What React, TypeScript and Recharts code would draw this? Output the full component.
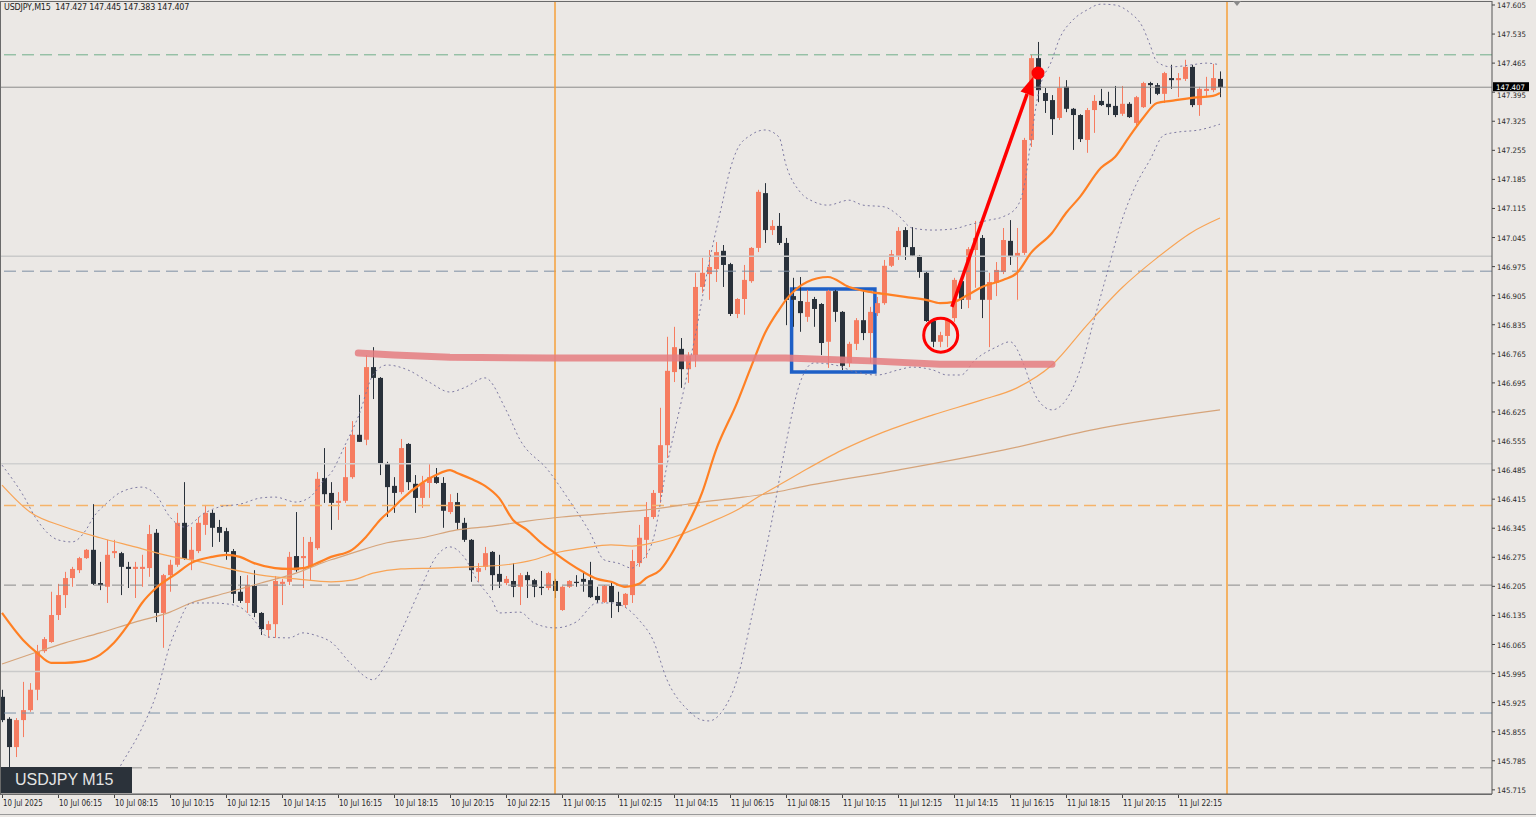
import { ComposedChart, Bar, Line, XAxis, YAxis, ReferenceLine, ReferenceArea, ReferenceDot } from "recharts"

// USDJPY M15, 10 Jul 04:15 .. 11 Jul 23:45, one entry per candle
const opens = [
  145.939, 145.886, 145.818, 145.883, 145.907, 145.956, 146.049, 146.071, 146.136, 146.184,
  146.225, 146.244, 146.273, 146.293, 146.213, 146.204, 146.285, 146.285, 146.252, 146.247,
  146.247, 146.249, 146.334, 146.141, 146.232, 146.257, 146.358, 146.269, 146.290, 146.353,
  146.382, 146.348, 146.338, 146.290, 146.192, 146.165, 146.206, 146.141, 146.100, 146.114,
  146.211, 146.216, 146.278, 146.273, 146.252, 146.297, 146.466, 146.430, 146.406, 146.411,
  146.468, 146.570, 146.558, 146.733, 146.707, 146.502, 146.447, 146.432, 146.548, 146.452,
  146.418, 146.454, 146.468, 146.454, 146.384, 146.408, 146.358, 146.317, 146.240, 146.252,
  146.288, 146.235, 146.213, 146.218, 146.204, 146.232, 146.220, 146.204, 146.201, 146.218,
  146.148, 146.204, 146.216, 146.223, 146.220, 146.182, 146.167, 146.206, 146.167, 146.160,
  146.184, 146.261, 146.317, 146.372, 146.430, 146.545, 146.721, 146.777, 146.728, 146.762,
  146.926, 146.957, 146.969, 147.013, 146.981, 146.861, 146.897, 146.940, 147.020, 147.152,
  147.063, 147.073, 147.032, 146.904, 146.892, 146.854, 146.897, 146.885, 146.794, 146.916,
  146.866, 146.743, 146.789, 146.846, 146.815, 146.863, 146.887, 146.977, 147.001, 147.063,
  147.022, 147.001, 146.960, 146.844, 146.794, 146.808, 146.851, 146.940, 146.895, 147.015,
  147.044, 146.895, 146.936, 146.962, 147.037, 146.998, 147.008, 147.280, 147.477, 147.393,
  147.376, 147.333, 147.408, 147.355, 147.340, 147.280, 147.352, 147.374, 147.367, 147.362,
  147.343, 147.367, 147.321, 147.359, 147.417, 147.412, 147.391, 147.429, 147.424, 147.427,
  147.456, 147.364, 147.398, 147.400, 147.427,
]
const highs = [
  145.956, 145.890, 145.888, 145.975, 145.972, 146.064, 146.083, 146.192, 146.211, 146.240,
  146.252, 146.276, 146.295, 146.403, 146.264, 146.317, 146.317, 146.288, 146.264, 146.264,
  146.281, 146.353, 146.343, 146.235, 146.269, 146.382, 146.456, 146.348, 146.372, 146.401,
  146.389, 146.365, 146.346, 146.295, 146.230, 146.232, 146.244, 146.143, 146.122, 146.230,
  146.223, 146.288, 146.384, 146.324, 146.324, 146.480, 146.538, 146.456, 146.432, 146.541,
  146.603, 146.666, 146.762, 146.781, 146.709, 146.505, 146.468, 146.560, 146.550, 146.473,
  146.471, 146.500, 146.490, 146.468, 146.427, 146.430, 146.370, 146.319, 146.261, 146.300,
  146.290, 146.281, 146.230, 146.261, 146.237, 146.240, 146.223, 146.242, 146.240, 146.223,
  146.206, 146.220, 146.232, 146.242, 146.264, 146.204, 146.208, 146.216, 146.192, 146.189,
  146.293, 146.353, 146.408, 146.437, 146.635, 146.806, 146.830, 146.803, 146.769, 146.960,
  146.996, 147.015, 147.034, 147.027, 146.984, 146.899, 146.979, 147.022, 147.160, 147.176,
  147.087, 147.104, 147.044, 146.948, 146.950, 146.919, 146.902, 146.887, 146.919, 146.919,
  146.868, 146.794, 146.851, 146.916, 146.878, 146.902, 146.991, 147.015, 147.070, 147.070,
  147.070, 147.003, 146.962, 146.846, 146.818, 146.851, 146.948, 146.948, 147.022, 147.085,
  147.051, 146.960, 146.986, 147.068, 147.087, 147.068, 147.285, 147.485, 147.516, 147.405,
  147.388, 147.432, 147.424, 147.357, 147.342, 147.357, 147.388, 147.403, 147.396, 147.410,
  147.410, 147.371, 147.386, 147.420, 147.420, 147.417, 147.444, 147.461, 147.441, 147.473,
  147.461, 147.408, 147.432, 147.463, 147.445,
]
const lows = [
  145.878, 145.768, 145.794, 145.842, 145.903, 145.931, 146.045, 146.069, 146.124, 146.153,
  146.204, 146.237, 146.271, 146.208, 146.196, 146.165, 146.273, 146.184, 146.201, 146.177,
  146.204, 146.228, 146.119, 146.057, 146.192, 146.252, 146.269, 146.244, 146.285, 146.329,
  146.300, 146.312, 146.269, 146.165, 146.165, 146.141, 146.131, 146.088, 146.081, 146.081,
  146.160, 146.208, 146.240, 146.201, 146.220, 146.293, 146.406, 146.341, 146.365, 146.406,
  146.464, 146.553, 146.545, 146.656, 146.473, 146.372, 146.382, 146.427, 146.437, 146.382,
  146.394, 146.418, 146.452, 146.346, 146.379, 146.341, 146.312, 146.216, 146.216, 146.244,
  146.196, 146.201, 146.208, 146.179, 146.160, 146.177, 146.179, 146.184, 146.196, 146.177,
  146.146, 146.201, 146.204, 146.192, 146.177, 146.165, 146.165, 146.129, 146.143, 146.153,
  146.165, 146.252, 146.273, 146.367, 146.406, 146.514, 146.697, 146.683, 146.695, 146.733,
  146.912, 146.895, 146.938, 146.926, 146.856, 146.851, 146.859, 146.936, 147.010, 147.032,
  147.051, 147.027, 146.834, 146.830, 146.818, 146.842, 146.830, 146.762, 146.731, 146.842,
  146.726, 146.733, 146.774, 146.798, 146.743, 146.856, 146.883, 146.974, 146.991, 146.991,
  146.998, 146.948, 146.842, 146.781, 146.781, 146.781, 146.842, 146.873, 146.875, 146.924,
  146.851, 146.781, 146.904, 146.957, 146.979, 146.895, 147.003, 147.263, 147.371, 147.345,
  147.292, 147.328, 147.347, 147.256, 147.275, 147.249, 147.297, 147.362, 147.340, 147.335,
  147.338, 147.333, 147.316, 147.357, 147.367, 147.388, 147.369, 147.403, 147.383, 147.422,
  147.359, 147.338, 147.383, 147.395, 147.383,
]
const closes = [
  145.883, 145.818, 145.883, 145.907, 145.956, 146.049, 146.078, 146.136, 146.184, 146.225,
  146.247, 146.273, 146.293, 146.211, 146.208, 146.281, 146.290, 146.252, 146.247, 146.252,
  146.252, 146.331, 146.141, 146.232, 146.257, 146.358, 146.271, 146.293, 146.358, 146.382,
  146.346, 146.334, 146.288, 146.187, 146.170, 146.208, 146.141, 146.102, 146.114, 146.218,
  146.216, 146.276, 146.244, 146.278, 146.312, 146.464, 146.427, 146.406, 146.411, 146.468,
  146.570, 146.553, 146.733, 146.707, 146.502, 146.444, 146.430, 146.538, 146.456, 146.418,
  146.454, 146.468, 146.454, 146.387, 146.408, 146.358, 146.317, 146.244, 146.249, 146.285,
  146.232, 146.216, 146.223, 146.204, 146.232, 146.220, 146.204, 146.201, 146.237, 146.194,
  146.204, 146.218, 146.213, 146.216, 146.179, 146.172, 146.206, 146.167, 146.158, 146.187,
  146.266, 146.322, 146.372, 146.430, 146.545, 146.724, 146.781, 146.728, 146.760, 146.926,
  146.960, 146.974, 147.010, 146.979, 146.861, 146.897, 146.943, 147.020, 147.155, 147.063,
  147.073, 147.032, 146.895, 146.895, 146.863, 146.890, 146.873, 146.791, 146.916, 146.866,
  146.736, 146.789, 146.846, 146.815, 146.866, 146.887, 146.977, 147.005, 147.061, 147.022,
  147.001, 146.962, 146.844, 146.794, 146.810, 146.846, 146.943, 146.895, 147.017, 147.044,
  146.895, 146.938, 146.967, 147.039, 146.998, 147.008, 147.280, 147.477, 147.400, 147.374,
  147.330, 147.405, 147.355, 147.340, 147.282, 147.352, 147.374, 147.364, 147.359, 147.340,
  147.367, 147.335, 147.383, 147.417, 147.412, 147.391, 147.441, 147.424, 147.429, 147.456,
  147.364, 147.403, 147.403, 147.429, 147.407,
]

// indicator readings: [candle index, price]
const maFast = [
  [0, 146.141], [3, 146.076], [5, 146.045], [7, 146.021], [9, 146.021], [11, 146.023], [14, 146.04],
  [16, 146.069], [18, 146.112], [20, 146.165], [22, 146.201], [25, 146.237], [27, 146.261], [30, 146.276],
  [32, 146.281], [34, 146.276], [36, 146.261], [39, 146.249], [41, 146.247], [43, 146.249], [45, 146.261],
  [47, 146.276], [50, 146.293], [52, 146.324], [54, 146.365], [56, 146.396], [57, 146.413], [60, 146.454],
  [62, 146.473], [64, 146.485], [65, 146.478], [67, 146.464], [69, 146.447], [71, 146.418], [73, 146.365],
  [75, 146.341], [77, 146.31], [79, 146.285], [81, 146.261], [83, 146.24], [85, 146.223], [87, 146.216],
  [89, 146.204], [91, 146.211], [92, 146.225], [94, 146.244], [97, 146.324], [100, 146.43], [102, 146.533],
  [105, 146.647], [107, 146.733], [109, 146.815], [111, 146.871], [112, 146.895], [115, 146.938],
  [118, 146.95], [121, 146.926], [124, 146.914], [127, 146.907], [129, 146.902], [132, 146.895],
  [134, 146.887], [136, 146.89], [138, 146.907], [140, 146.926], [143, 146.943], [145, 146.96],
  [147, 147.008], [150, 147.056], [152, 147.104], [154, 147.143], [157, 147.213], [159, 147.239],
  [161, 147.287], [163, 147.333], [165, 147.369], [167, 147.374], [169, 147.379], [171, 147.383],
  [173, 147.386], [174, 147.393],
]
const maMid = [
  [0, 146.449], [4, 146.384], [9, 146.348], [14, 146.322], [19, 146.3], [24, 146.278], [27, 146.269],
  [32, 146.249], [37, 146.232], [42, 146.223], [47, 146.216], [50, 146.22], [53, 146.237], [57, 146.247],
  [62, 146.249], [67, 146.252], [72, 146.257], [76, 146.269], [79, 146.285], [83, 146.297], [87, 146.305],
  [90, 146.302], [93, 146.31], [96, 146.324], [101, 146.358], [105, 146.389], [108, 146.42], [111, 146.449],
  [114, 146.478], [120, 146.533], [126, 146.577], [133, 146.618], [140, 146.654], [145, 146.683],
  [150, 146.738], [155, 146.834], [160, 146.924], [165, 146.996], [170, 147.058], [174, 147.092],
]
const maSlow = [
  [0, 146.018], [5, 146.047], [9, 146.069], [14, 146.093], [19, 146.119], [24, 146.143], [27, 146.165],
  [32, 146.189], [37, 146.213], [42, 146.237], [47, 146.269], [50, 146.285], [55, 146.31], [60, 146.322],
  [65, 146.341], [70, 146.35], [75, 146.362], [80, 146.372], [85, 146.379], [92, 146.389], [100, 146.408],
  [105, 146.418], [110, 146.43], [114, 146.444], [128, 146.485], [143, 146.533], [157, 146.586], [174, 146.63],
]
const bandUpper = [
  [0, 146.497], [3, 146.425], [5, 146.365], [8, 146.317], [10, 146.312], [12, 146.341], [13, 146.37],
  [15, 146.406], [17, 146.432], [20, 146.444], [22, 146.425], [24, 146.372], [26, 146.348], [29, 146.382],
  [31, 146.396], [34, 146.403], [37, 146.418], [39, 146.42], [42, 146.408], [44, 146.42], [46, 146.461],
  [47, 146.478], [49, 146.545], [51, 146.618], [53, 146.714], [55, 146.738], [58, 146.726], [61, 146.697],
  [64, 146.673], [66, 146.683], [69, 146.707], [72, 146.63], [74, 146.558], [78, 146.485], [81, 146.413],
  [84, 146.334], [86, 146.269], [88, 146.261], [90, 146.249], [91, 146.261], [93, 146.317], [95, 146.497],
  [97, 146.647], [99, 146.806], [101, 146.984], [103, 147.135], [104, 147.208], [105, 147.256],
  [107, 147.292], [109, 147.304], [111, 147.287], [112, 147.22], [114, 147.155], [116, 147.131],
  [118, 147.123], [121, 147.135], [123, 147.123], [126, 147.119], [128, 147.099], [130, 147.068],
  [133, 147.063], [136, 147.066], [138, 147.075], [141, 147.087], [143, 147.095], [145, 147.119],
  [146, 147.167], [147, 147.28], [148, 147.388], [150, 147.473], [151, 147.521], [153, 147.569],
  [155, 147.593], [157, 147.607], [159, 147.605], [161, 147.588], [163, 147.55], [164, 147.509],
  [165, 147.468], [167, 147.456], [170, 147.461], [172, 147.465], [174, 147.461],
]
const bandLower = [
  [12, 145.68], [14, 145.69], [16, 145.745], [17, 145.775], [20, 145.864], [22, 145.943], [24, 146.064],
  [25, 146.107], [27, 146.165], [30, 146.165], [32, 146.163], [34, 146.155], [36, 146.124], [38, 146.083],
  [41, 146.081], [43, 146.093], [45, 146.086], [47, 146.071], [50, 146.016], [53, 145.98], [55, 146.023],
  [57, 146.095], [60, 146.208], [62, 146.276], [64, 146.3], [66, 146.276], [68, 146.216], [70, 146.172],
  [71, 146.141], [74, 146.143], [76, 146.117], [79, 146.105], [82, 146.119], [85, 146.165], [87, 146.165],
  [89, 146.155], [91, 146.124], [93, 146.076], [95, 145.98], [98, 145.907], [100, 145.883], [101, 145.881],
  [103, 145.907], [105, 145.98], [107, 146.124], [108, 146.204], [110, 146.365], [112, 146.55],
  [114, 146.695], [116, 146.743], [119, 146.738], [122, 146.721], [125, 146.714], [128, 146.726],
  [130, 146.733], [133, 146.726], [135, 146.714], [137, 146.714], [139, 146.75], [142, 146.781],
  [144, 146.794], [146, 146.738], [147, 146.69], [148, 146.654], [150, 146.63], [152, 146.654],
  [154, 146.726], [156, 146.846], [158, 146.967], [160, 147.087], [162, 147.172], [164, 147.232],
  [166, 147.292], [168, 147.299], [171, 147.304], [174, 147.318],
]
// hand-drawn support line
const supportLine = [
  [50.9, 146.767], [56, 146.762], [64, 146.757], [78, 146.755], [92, 146.755], [112, 146.755],
  [124, 146.748], [134, 146.74], [150, 146.74],
]

const timeTicks = [0, 8, 16, 24, 32, 40, 48, 56, 64, 72, 80, 88, 96, 104, 112, 120, 128, 136, 144, 152, 160, 168]
const timeLabels = [
  "10 Jul 2025", "10 Jul 06:15", "10 Jul 08:15", "10 Jul 10:15", "10 Jul 12:15", "10 Jul 14:15",
  "10 Jul 16:15", "10 Jul 18:15", "10 Jul 20:15", "10 Jul 22:15", "11 Jul 00:15", "11 Jul 02:15",
  "11 Jul 04:15", "11 Jul 06:15", "11 Jul 08:15", "11 Jul 10:15", "11 Jul 12:15", "11 Jul 14:15",
  "11 Jul 16:15", "11 Jul 18:15", "11 Jul 20:15", "11 Jul 22:15",
]
const priceTicks = [
  147.605, 147.535, 147.465, 147.395, 147.325, 147.255, 147.185, 147.115, 147.045, 146.975,
  146.905, 146.835, 146.765, 146.695, 146.625, 146.555, 146.485, 146.415, 146.345, 146.275,
  146.205, 146.135, 146.065, 145.995, 145.925, 145.855, 145.785, 145.715,
]
const lastPrice = 147.407
const dayBreaks = [79, 175]

const UP = "#F67C60"
const DOWN = "#29313A"
const BG = "#EBE8E5"
const BAND = "#7E7AA2"
const AXIS_FONT = "'DejaVu Sans', sans-serif"

const candles = opens.map((o, i) => ({ i, o, h: highs[i], l: lows[i], c: closes[i] }))
const pts = (arr: number[][]) => arr.map(([i, v]) => ({ i, v }))

function Candle(props: any) {
  const { x, y, width, height, payload } = props
  if (!payload) return null
  const { o, h, l, c } = payload
  const top = Math.min(y, y + height)
  const bot = Math.max(y, y + height)
  const k = h === l ? 0 : (bot - top) / (h - l)
  const yO = top + (h - o) * k
  const yC = top + (h - c) * k
  const color = c >= o ? UP : DOWN
  const cx = Math.round(x + width / 2) + 0.5
  const bTop = Math.min(yO, yC)
  const bH = Math.max(1, Math.abs(yC - yO))
  return (
    <g>
      <line x1={cx} x2={cx} y1={top} y2={bot} stroke={color} strokeWidth={1} />
      <rect x={cx - 2.5} y={bTop} width={5} height={bH} fill={color} />
    </g>
  )
}

function TimeTick({ x, y, payload }: any) {
  const label = timeLabels[timeTicks.indexOf(payload.value)] ?? ""
  return (
    <g>
      <line x1={x + 0.5} x2={x + 0.5} y1={y} y2={y + 4} stroke="#444" />
      <text x={x + 1} y={y + 12} fontSize={8} fontFamily={AXIS_FONT} fill="#2a2a2a"
        textLength={label.length * 3.6} lengthAdjust="spacingAndGlyphs">{label}</text>
    </g>
  )
}

function PriceTick({ x, y, payload }: any) {
  const v = payload.value
  if (v === lastPrice) {
    return (
      <g>
        <rect x={x + 1} y={y - 5} width={36} height={9} fill="#000" />
        <text x={x + 4} y={y + 2.5} fontSize={7.5} fontFamily={AXIS_FONT} fill="#fff"
          textLength={29} lengthAdjust="spacingAndGlyphs">{v.toFixed(3)}</text>
      </g>
    )
  }
  // the tick just under the price tag peeks out below it, as in the terminal
  const dy = Math.abs(v - lastPrice) < 0.02 ? 5.5 : 3
  return (
    <g>
      <line x1={x} x2={x + 3} y1={y} y2={y} stroke="#444" />
      <text x={x + 5} y={y + dy} fontSize={7.5} fontFamily={AXIS_FONT} fill="#2a2a2a"
        textLength={29} lengthAdjust="spacingAndGlyphs">{v.toFixed(3)}</text>
    </g>
  )
}

function Arrow(p: any) {
  const { x1, y1, x2, y2 } = p
  if (x1 == null) return null
  const a = Math.atan2(y2 - y1, x2 - x1)
  const L = 18, W = 7
  const bx = x2 - L * Math.cos(a), by = y2 - L * Math.sin(a)
  const nx = -Math.sin(a) * W, ny = Math.cos(a) * W
  return (
    <g>
      <line x1={x1} y1={y1} x2={bx} y2={by} stroke="#FF0000" strokeWidth={3.5} />
      <polygon points={`${x2},${y2} ${bx + nx},${by + ny} ${bx - nx},${by - ny}`} fill="#FF0000" />
    </g>
  )
}

export default function App() {
  return (
    <div style={{ position: "absolute", left: 0, top: 0, width: 1536, height: 817, background: BG, overflow: "hidden" }}>
      <ComposedChart width={1536} height={817} data={candles} margin={{ top: 1, right: 0, bottom: 0, left: 0 }}>
        <XAxis dataKey="i" type="number" domain={[-2 / 7, 1490 / 7]} allowDataOverflow ticks={timeTicks}
          interval={0} height={23} tickLine={false} tickSize={0} tickMargin={0} tick={<TimeTick />}
          axisLine={{ stroke: "#555" }} />
        <YAxis orientation="right" type="number" domain={[145.705, 147.6146]} allowDataOverflow width={44}
          ticks={[...priceTicks, lastPrice]} interval={0} tickLine={false} tickSize={0} tickMargin={0}
          tick={<PriceTick />} axisLine={{ stroke: "#555" }} />

        <ReferenceLine y={147.485} stroke="#6FAE89" strokeDasharray="12 6" />
        <ReferenceLine y={lastPrice} stroke="#8C8C8C" />
        <ReferenceLine y={147.0} stroke="#CACACA" strokeWidth={1.5} />
        <ReferenceLine y={146.964} stroke="#7D8FA3" strokeDasharray="12 6" />
        <ReferenceLine y={146.5} stroke="#D0D0D0" strokeWidth={1.5} />
        <ReferenceLine y={146.4} stroke="#F5B36A" strokeDasharray="12 6" strokeWidth={1.5} />
        <ReferenceLine y={146.208} stroke="#8A8A8A" strokeDasharray="12 6" />
        <ReferenceLine y={146.0} stroke="#CACACA" strokeWidth={1.5} />
        <ReferenceLine y={145.9} stroke="#7D93AB" strokeDasharray="12 6" />
        <ReferenceLine y={145.768} stroke="#8E8E8E" strokeDasharray="12 6" />
        {dayBreaks.map((d) => (
          <ReferenceLine key={d} x={d} stroke="#F6A03A" strokeWidth={1.5} />
        ))}

        <Line data={pts(maSlow)} dataKey="v" type="monotone" stroke="#D6A47A" strokeWidth={1.2} dot={false} activeDot={false} isAnimationActive={false} />
        <Line data={pts(maMid)} dataKey="v" type="monotone" stroke="#F8A456" strokeWidth={1.2} dot={false} activeDot={false} isAnimationActive={false} />
        <Line data={pts(bandUpper)} dataKey="v" type="monotone" stroke={BAND} strokeWidth={1} strokeDasharray="2 3" dot={false} activeDot={false} isAnimationActive={false} />
        <Line data={pts(bandLower)} dataKey="v" type="monotone" stroke={BAND} strokeWidth={1} strokeDasharray="2 3" dot={false} activeDot={false} isAnimationActive={false} />
        <Line data={pts(maFast)} dataKey="v" type="monotone" stroke="#FF8024" strokeWidth={2.2} dot={false} activeDot={false} isAnimationActive={false} />

        <Bar dataKey={(d: any) => [d.l, d.h]} barSize={5} shape={(p: any) => <Candle {...p} />} isAnimationActive={false} />

        <Line data={pts(supportLine)} dataKey="v" type="linear" stroke="#E57C80" strokeOpacity={0.85} strokeWidth={7}
          strokeLinecap="round" dot={false} activeDot={false} isAnimationActive={false} />
        <ReferenceArea x1={112.8} x2={124.7} y1={146.721} y2={146.921} fill="none" fillOpacity={0}
          stroke="#1E5FC6" strokeWidth={3.5} />
        <ReferenceDot x={134.1} y={146.81} r={17} fill="none" stroke="#FF0000" strokeWidth={3} />
        <ReferenceLine segment={[{ x: 135.7, y: 146.878 }, { x: 147.3, y: 147.432 }]} shape={(p: any) => <Arrow {...p} />} />
        <ReferenceDot x={148} y={147.441} r={6.5} fill="#FF0000" stroke="none" />
      </ComposedChart>

      <div style={{ position: "absolute", left: 0, top: 1, width: 1491, height: 792, border: "1px solid #6a6a6a", borderRight: "none", pointerEvents: "none" }} />
      <div style={{ position: "absolute", left: 1233, top: 1, width: 0, height: 0, borderLeft: "4px solid transparent",
        borderRight: "4px solid transparent", borderTop: "5px solid #8a8a8a" }} />
      <div style={{ position: "absolute", left: 4, top: 3, fontFamily: AXIS_FONT, fontSize: 8, color: "#222", whiteSpace: "pre", letterSpacing: -0.2 }}>
        USDJPY,M15  147.427 147.445 147.383 147.407
      </div>
      <div style={{ position: "absolute", left: 1, top: 767, width: 131, height: 26, background: "#2B323A", color: "#E4E4E4",
        fontFamily: "'Liberation Sans', Arial, sans-serif", fontSize: 16, lineHeight: "26px", paddingLeft: 14, boxSizing: "border-box" }}>
        USDJPY M15
      </div>
      <div style={{ position: "absolute", left: 0, top: 814, width: 1536, height: 1, background: "#9a9a9a" }} />
    </div>
  )
}
